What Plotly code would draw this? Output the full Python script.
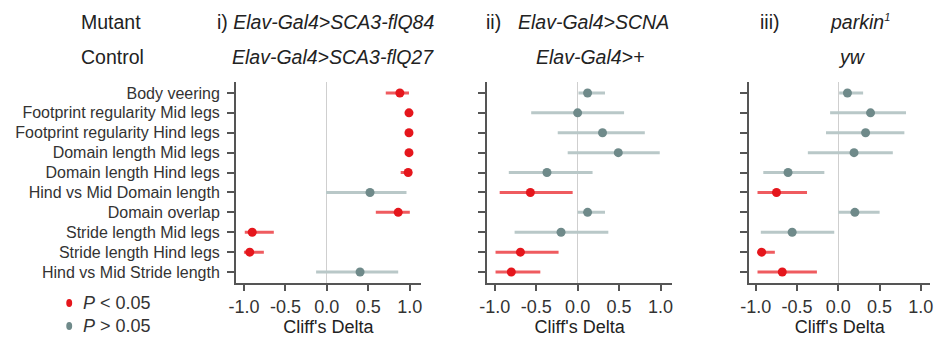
import plotly.graph_objects as go

categories = ["Body veering", "Footprint regularity Mid legs", "Footprint regularity Hind legs",
              "Domain length Mid legs", "Domain length Hind legs", "Hind vs Mid Domain length",
              "Domain overlap", "Stride length Mid legs", "Stride length Hind legs",
              "Hind vs Mid Stride length"]

# Panel i) Elav-Gal4>SCA3-flQ84 vs Elav-Gal4>SCA3-flQ27
est1 = [0.88, 0.99, 0.99, 0.99, 0.98, 0.52, 0.86, -0.90, -0.93, 0.40]
lo1 = [0.71, 0.97, 0.97, 0.97, 0.89, -0.01, 0.59, -0.99, -1.00, -0.13]
hi1 = [0.99, 1.00, 1.00, 1.00, 1.00, 0.96, 1.00, -0.64, -0.76, 0.86]
sig1 = [1, 1, 1, 1, 1, 0, 1, 1, 1, 0]

# Panel ii) Elav-Gal4>SCNA vs Elav-Gal4>+
est2 = [0.12, 0.00, 0.30, 0.49, -0.37, -0.57, 0.12, -0.20, -0.69, -0.80]
lo2 = [0.01, -0.56, -0.24, -0.12, -0.83, -0.94, 0.00, -0.76, -0.99, -0.99]
hi2 = [0.33, 0.56, 0.81, 0.99, 0.18, -0.06, 0.33, 0.37, -0.23, -0.45]
sig2 = [0, 0, 0, 0, 0, 1, 0, 0, 1, 1]

# Panel iii) parkin1 vs yw
est3 = [0.11, 0.39, 0.33, 0.19, -0.61, -0.75, 0.20, -0.56, -0.93, -0.68]
lo3 = [0.01, -0.10, -0.15, -0.37, -0.91, -0.98, 0.00, -0.94, -0.98, -0.98]
hi3 = [0.30, 0.82, 0.80, 0.66, -0.17, -0.38, 0.50, -0.05, -0.77, -0.26]
sig3 = [0, 0, 0, 0, 0, 1, 0, 0, 1, 1]

xticks = [-1.0, -0.5, 0.0, 0.5, 1.0]
legend_labels = ["<i>P</i> < 0.05", "<i>P</i> > 0.05"]

RED_PT, RED_CI = "#e5161c", "#ef5b5f"
GRAY_PT, GRAY_CI = "#6f8a8a", "#b9c8c8"
FONT = "Liberation Sans, Arial, sans-serif"
W, H = 941, 338

fig = go.Figure()

panels = [(est1, lo1, hi1, sig1), (est2, lo2, hi2, sig2), (est3, lo3, hi3, sig3)]
for p, (est, lo, hi, sig) in enumerate(panels):
    xa = "x" if p == 0 else f"x{p+1}"
    ya = "y" if p == 0 else f"y{p+1}"
    for flag, pc, cc in [(0, GRAY_PT, GRAY_CI), (1, RED_PT, RED_CI)]:
        idx = [i for i in range(len(categories)) if sig[i] == flag]
        fig.add_trace(go.Scatter(
            x=[est[i] for i in idx],
            y=[categories[i] for i in idx],
            mode="markers",
            marker=dict(color=pc, size=9, line=dict(width=0)),
            error_x=dict(type="data", symmetric=False,
                         array=[hi[i] - est[i] for i in idx],
                         arrayminus=[est[i] - lo[i] for i in idx],
                         color=cc, thickness=3, width=0),
            xaxis=xa, yaxis=ya, showlegend=False, hoverinfo="skip"))

xdoms = [(230, 417), (484, 672), (750, 933)]
xranges = [(-1.095, 1.131), (-1.095, 1.143), (-1.078, 1.112)]
ydom = [1 - 283 / H, 1 - 82 / H]

axis_common = dict(showline=True, linecolor="#555555", linewidth=2, ticks="outside",
                   tickcolor="#555555", tickwidth=1.5, showgrid=False)

for p in range(3):
    sx = "" if p == 0 else str(p + 1)
    fig.update_layout(**{
        f"xaxis{sx}": dict(domain=[xdoms[p][0] / W, xdoms[p][1] / W], range=list(xranges[p]),
                           tickvals=xticks, ticktext=[f"{v:.1f}" for v in xticks], ticklen=6,
                           zeroline=True, zerolinecolor="#cfcfcf", zerolinewidth=1,
                           title=dict(text="Cliff's Delta", font=dict(size=18, color="#222"), standoff=5),
                           tickfont=dict(size=18, color="#333"), anchor=f"y{sx}", **axis_common),
        f"yaxis{sx}": dict(domain=ydom, type="category", categoryorder="array",
                           categoryarray=categories, range=[9.55, -0.55], ticklen=7,
                           showticklabels=(p == 0), tickfont=dict(size=16, color="#333"),
                           ticklabelstandoff=4, anchor=f"x{sx}", **axis_common),
    })

def ann(text, x, y, xanchor, size=19.5, color="#222"):
    fig.add_annotation(text=text, x=x / W, y=1 - y / H, xref="paper", yref="paper",
                       xanchor=xanchor, yanchor="middle", showarrow=False, borderpad=0,
                       font=dict(size=size, color=color, family=FONT))

ann("Mutant", 72, 22, "left")
ann("Control", 72, 57, "left")
ann("i) <i>Elav-Gal4>SCA3-flQ84</i>", 431, 22, "right")
ann("<i>Elav-Gal4>SCA3-flQ27</i>", 431, 57, "right")
ann("ii)", 482, 22, "left")
ann("<i>Elav-Gal4>SCNA</i>", 515, 22, "left")
ann("<i>Elav-Gal4>+</i>", 588, 57, "center")
ann("iii)", 760, 22, "left")
ann("<i>parkin<sup><span style='font-size:11px'>1</span></sup></i>", 862, 22, "center")
ann("<i>yw</i>", 854, 57, "center")

# legend: dots as shapes, labels as text
for (cy, col) in [(303, RED_PT), (326, GRAY_PT)]:
    fig.add_shape(type="circle", xref="paper", yref="paper",
                  x0=58 / W, x1=64 / W, y0=1 - (cy + 4) / H, y1=1 - (cy - 4) / H,
                  fillcolor=col, line=dict(width=0))
ann(legend_labels[0], 74, 303, "left", size=18, color="#333")
ann(legend_labels[1], 74, 326, "left", size=18, color="#333")

fig.update_layout(
    width=W, height=H, margin=dict(l=0, r=0, t=0, b=0),
    paper_bgcolor="white", plot_bgcolor="white",
    font=dict(family=FONT, color="#222"),
    showlegend=False,
)

fig.write_html("out.html", config={"displayModeBar": False},
               post_script="document.body.style.margin='0';document.body.style.overflow='hidden';")
